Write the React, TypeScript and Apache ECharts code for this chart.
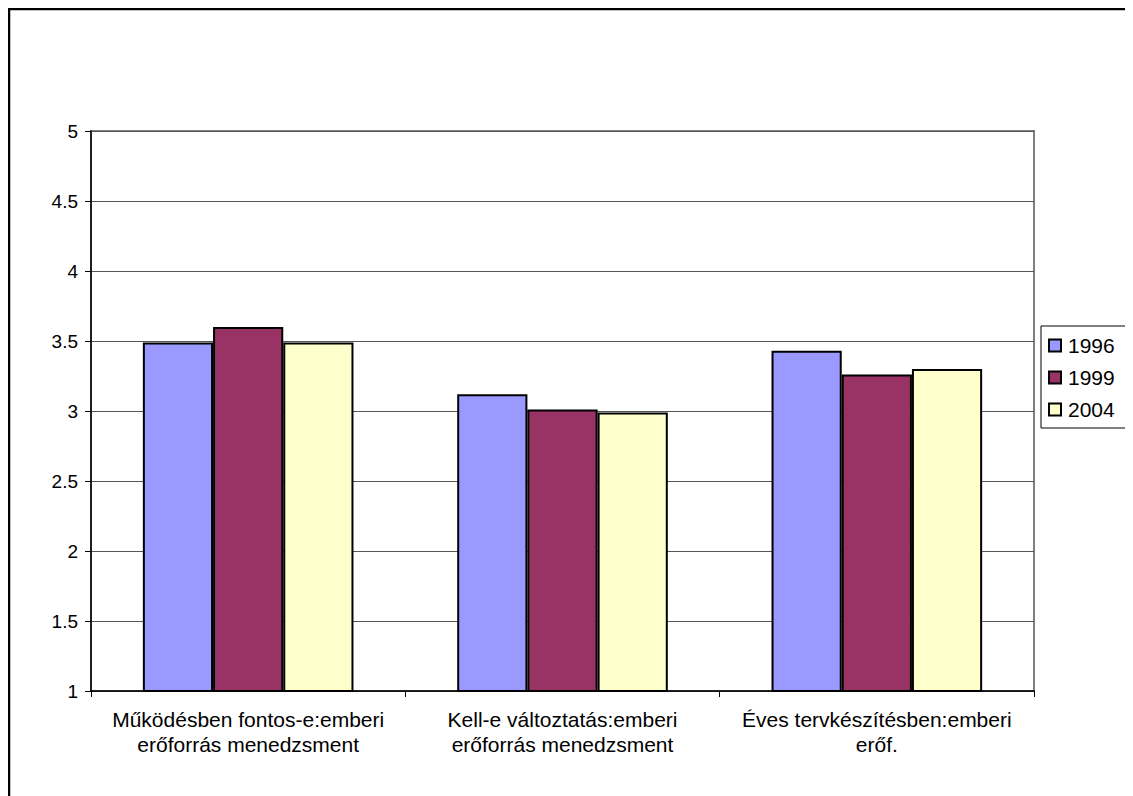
import React, { useEffect, useRef } from "react";
import * as echarts from "echarts";

const categories = [
  "Működésben fontos-e:emberi\nerőforrás menedzsment",
  "Kell-e változtatás:emberi\nerőforrás menedzsment",
  "Éves tervkészítésben:emberi\nerőf.",
];
const seriesNames = ["1996", "1999", "2004"];
const values1996 = [3.49, 3.12, 3.43];
const values1999 = [3.6, 3.01, 3.26];
const values2004 = [3.49, 2.99, 3.3];
const seriesColors = ["#9999FF", "#993366", "#FFFFCC"];
const yMin = 1;
const yMax = 5;
const yStep = 0.5;

const FONT = "'Liberation Sans', Arial, sans-serif";

export default function App() {
  const ref = useRef<HTMLDivElement>(null);

  useEffect(() => {
    if (!ref.current) return;
    const chart = echarts.init(ref.current, undefined, { renderer: "svg" });
    const data = [values1996, values1999, values2004];

    chart.setOption({
      animation: false,
      backgroundColor: "#ffffff",
      textStyle: { fontFamily: FONT, color: "#000" },
      graphic: [
        {
          type: "rect",
          shape: { x: 1, y: 1, width: 1200, height: 900 },
          style: { fill: "none", stroke: "#000", lineWidth: 2.5 },
          silent: true,
          z: 100,
        },
      ],
      grid: {
        left: 83,
        right: 99,
        top: 123,
        bottom: 105,
        show: true,
        borderColor: "#808080",
        borderWidth: 2,
        backgroundColor: "transparent",
      },
      legend: {
        orient: "vertical",
        left: 1033,
        top: 318,
        padding: [9, 11, 8, 7],
        itemGap: 11,
        itemWidth: 12,
        itemHeight: 12,
        borderColor: "#000",
        borderWidth: 1,
        backgroundColor: "#fff",
        icon: "rect",
        data: seriesNames,
        textStyle: {
          fontFamily: FONT,
          fontSize: 21,
          color: "#000",
          padding: [0, 0, 0, 2],
        },
      },
      xAxis: {
        type: "category",
        data: categories,
        axisLine: { show: true, lineStyle: { color: "#000", width: 1.5 } },
        axisTick: { show: true, length: 6, lineStyle: { color: "#000" } },
        axisLabel: {
          interval: 0,
          margin: 16,
          fontFamily: FONT,
          fontSize: 21,
          lineHeight: 25,
          color: "#000",
        },
        splitLine: { show: false },
      },
      yAxis: {
        type: "value",
        min: yMin,
        max: yMax,
        interval: yStep,
        axisLine: { show: true, lineStyle: { color: "#000", width: 1.5 } },
        axisTick: { show: true, length: 6, lineStyle: { color: "#000" } },
        axisLabel: {
          margin: 13,
          fontFamily: FONT,
          fontSize: 19,
          color: "#000",
        },
        splitLine: { show: true, lineStyle: { color: "#555", width: 1 } },
      },
      series: seriesNames.map((name, i) => ({
        name,
        type: "bar",
        data: data[i],
        barGap: "0%",
        barCategoryGap: "33%",
        itemStyle: {
          color: seriesColors[i],
          borderColor: "#000",
          borderWidth: 2,
        },
      })),
    });

    return () => chart.dispose();
  }, []);

  return <div ref={ref} style={{ width: 1125, height: 788 }} />;
}
